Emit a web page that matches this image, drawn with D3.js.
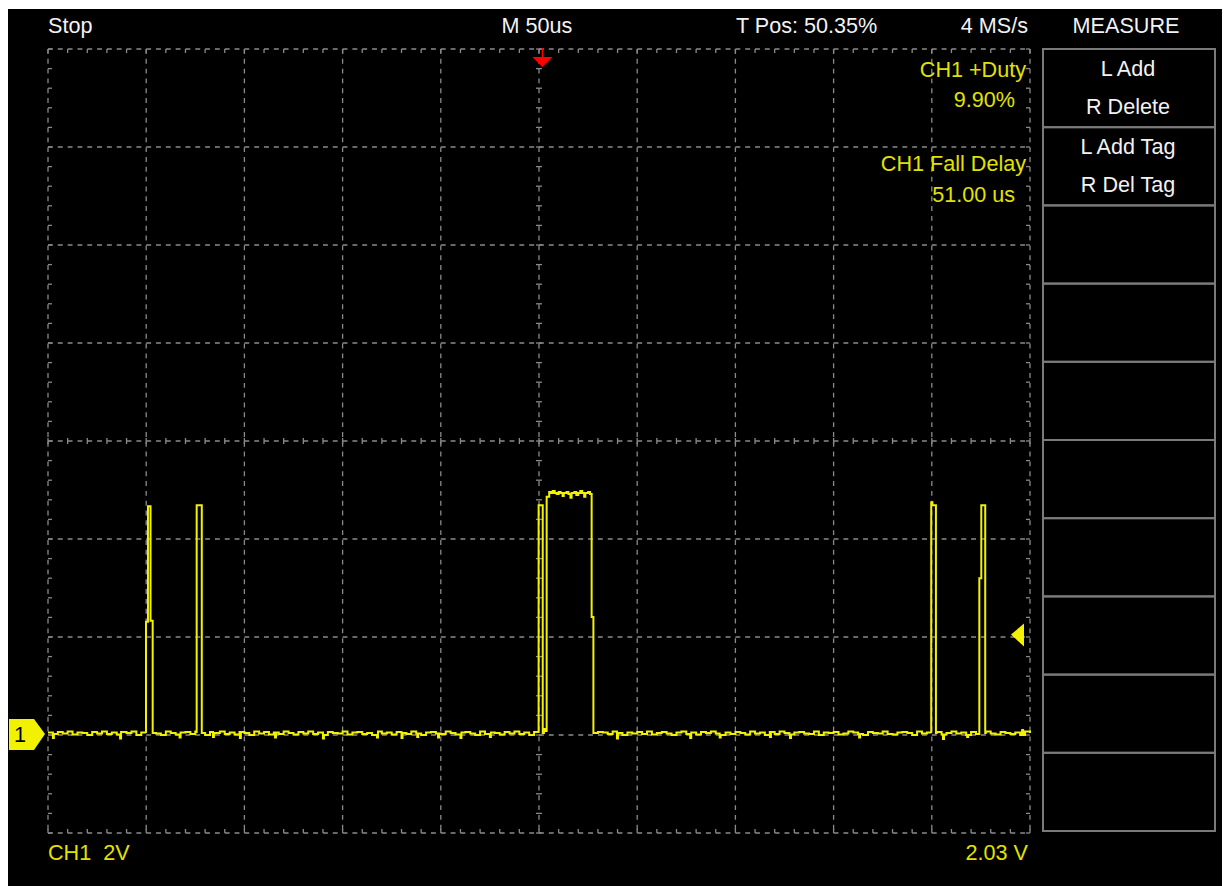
<!DOCTYPE html>
<html><head><meta charset="utf-8">
<script src="https://cdn.jsdelivr.net/npm/d3@7"></script>
<style>
html,body{margin:0;padding:0;background:#fff;}
svg{display:block;}
text{font-family:"Liberation Sans", Arial, sans-serif;}
</style></head><body>
<svg id="scope" width="1224" height="886"></svg>
<script>
// ---- acquisition settings ----
const timePerDivUs = 50;
const voltsPerDiv = 2;
const hDivs = 10, vDivs = 8;
const ch1PositionDiv = -2.99;
const triggerPosPct = 50.35;
const triggerLevelV = 2.03;

// ---- on-screen labels ----
const statusLabel = "Stop";
const timebaseLabel = "M 50us";
const triggerPosLabel = "T Pos: 50.35%";
const sampleRateLabel = "4 MS/s";
const menuTitle = "MEASURE";
const measureNames = ["CH1 +Duty", "CH1 Fall Delay"];
const measureValues = ["9.90%", "51.00 us"];
const menuItems = ["L Add", "R Delete", "L Add Tag", "R Del Tag"];
const menuSlots = 10;
const channelLabel = "CH1  2V";
const triggerLevelLabel = "2.03 V";

// ---- CH1 record: baseline jitter (mV) every 2.5 us, 0..500 us ----
const sampleStepUs = 2.5;
const baselineMv = [
  30,0,40,10,50,-10,30,20,-20,40,
  10,50,0,30,-10,40,20,50,-20,30,
  0,40,10,-20,50,20,-10,30,40,0,
  50,10,-20,40,20,50,0,30,-10,40,
  20,-20,50,10,40,-10,30,0,50,20,
  -10,40,10,50,0,30,-20,40,20,10,
  50,-10,30,40,0,20,-20,50,10,30,
  -10,40,20,0,50,10,-20,30,40,10,
  0,50,20,-10,30,40,10,-20,50,0,
  30,20,-10,40,10,50,0,30,-20,40,
  20,-10,50,10,30,0,40,-20,20,50,
  10,-10,40,30,0,50,20,-20,30,10,
  40,0,50,-10,20,40,10,-20,30,50,
  0,30,-10,40,20,50,10,-20,30,0,
  40,20,-10,50,10,30,-20,40,0,50,
  20,-10,30,40,10,0,50,-20,30,20,
  40,-10,10,50,30,0,-20,40,20,10,
  50,0,-10,30,40,20,-20,50,10,30,
  0,40,-10,20,50,10,30,-20,40,0,
  30,50,10,-10,40,20,0,30,-20,50,
  20
];
// narrow baseline glitches [time us, mV]
const glitches = [
  [2.5,-80],[36.7,-90],[67,-70],[84,-60],[97.7,-80],[115.6,-70],[140,-90],
  [167.5,-70],[180,-80],[188,-60],[198.6,-70],[210,-80],[225,-60],[289.7,-90],
  [327,-80],[342,-70],[367.6,-60],[377.8,-80],[413,-70],[455.7,-100],[468,-60],[496,80]
];
// pulses as [time us, volts]
const pulseA = [[49.9,0.02],[49.9,2.29],[50.9,2.29],[50.9,4.65],[52.2,4.65],[52.2,2.31],[53.3,2.31],[53.3,0.02]];
const pulseB = [[75.7,0.02],[75.7,4.67],[78.3,4.67],[78.3,0.02]];
const pulseC = [[249.8,0.02],[249.8,4.67],[251.9,4.67],[251.9,0.02],[252.5,0.1],[253.2,0.06]];
const pulseD = [[253.9,0.04],[253.9,4.84],[255.2,4.84],[255.2,4.94],[256,4.92],[257,4.96],[258,4.92],
  [259,4.9],[260,4.94],[261,4.92],[262,4.86],[262.6,4.92],[264,4.94],[265,4.9],[266,4.82],[266.6,4.92],
  [268,4.94],[269,4.88],[270,4.92],[271,4.96],[272,4.92],[273,4.84],[273.6,4.92],[275,4.94],[276,4.9],
  [276.8,4.9],[276.8,2.39],[277.7,2.39],[277.7,0.02]];
const pulseE = [[449.7,0.02],[449.7,4.73],[450.3,4.67],[452.1,4.67],[452.1,0.02]];
const pulseF = [[474.2,0.02],[474.2,3.18],[475.2,3.18],[475.2,4.67],[477.2,4.67],[477.2,0.02]];

// ---- geometry ----
const W = 1224, H = 886;
const plot = {left: 48, right: 1030, top: 49, bottom: 833};
const yellow = "#f2f200", textYellow = "#e2e200", gridGray = "#8a8a8a";
const fontPx = 21.6;

const svg = d3.select("#scope");
svg.append("rect").attr("x", 8).attr("y", 9).attr("width", 1214).attr("height", H - 9).attr("fill", "#000");

const spanUs = timePerDivUs * hDivs;
const x = d3.scaleLinear().domain([0, spanUs]).range([plot.left, plot.right]);
const y = d3.scaleLinear()
  .domain([(-vDivs / 2 - ch1PositionDiv) * voltsPerDiv, (vDivs / 2 - ch1PositionDiv) * voltsPerDiv])
  .range([plot.bottom, plot.top]);
const xDiv = d3.scaleLinear().domain([0, hDivs]).range([plot.left, plot.right]);
const yDiv = d3.scaleLinear().domain([0, vDivs]).range([plot.top, plot.bottom]);
const divW = xDiv(1) - xDiv(0);
const dash = `${divW / 20},${divW / 20}`;

// ---- graticule ----
const grid = svg.append("g").attr("stroke", gridGray).attr("stroke-width", 1.3).attr("fill", "none");
grid.selectAll("line.v").data(d3.range(0, hDivs + 1)).join("line")
  .attr("x1", d => xDiv(d)).attr("x2", d => xDiv(d))
  .attr("y1", plot.top).attr("y2", plot.bottom).attr("stroke-dasharray", dash);
grid.selectAll("line.h").data(d3.range(0, vDivs + 1)).join("line")
  .attr("class", "h")
  .attr("y1", d => yDiv(d)).attr("y2", d => yDiv(d))
  .attr("x1", plot.left).attr("x2", plot.right).attr("stroke-dasharray", dash);

// minor ticks every 1/5 division on the frame and the centre cross
const minorX = d3.range(0, hDivs * 5 + 1).map(i => i / 5);
const minorY = d3.range(0, vDivs * 5 + 1).map(i => i / 5);
const ticks = [];
minorX.forEach(d => {
  const px = xDiv(d);
  ticks.push([px, plot.top, px, plot.top + 4]);
  ticks.push([px, plot.bottom, px, plot.bottom - 4]);
  ticks.push([px, yDiv(vDivs / 2) - 3, px, yDiv(vDivs / 2) + 3]);
});
minorY.forEach(d => {
  const py = yDiv(d);
  ticks.push([plot.left, py, plot.left + 4, py]);
  ticks.push([plot.right, py, plot.right - 4, py]);
  ticks.push([xDiv(hDivs / 2) - 3, py, xDiv(hDivs / 2) + 3, py]);
});
grid.selectAll("line.t").data(ticks).join("line")
  .attr("x1", d => d[0]).attr("y1", d => d[1]).attr("x2", d => d[2]).attr("y2", d => d[3]);

// ---- assemble the CH1 trace ----
const events = [pulseA, pulseB, pulseC, pulseD, pulseE, pulseF]
  .map(p => ({start: p[0][0], end: p[p.length - 1][0], pts: p}));
glitches.forEach(([t, mv]) => {
  const base = baselineMv[Math.round(t / sampleStepUs)] / 1000;
  events.push({start: t, end: t + 0.5, pts: [[t, mv / 1000], [t + 0.5, base]]});
});
events.sort((a, b) => a.start - b.start);
const trace = [];
let ei = 0;
baselineMv.forEach((mv, i) => {
  const t = i * sampleStepUs;
  while (ei < events.length && events[ei].start <= t) { trace.push(...events[ei].pts); ei++; }
  if (!events.some(e => t >= e.start && t <= e.end)) trace.push([t, mv / 1000]);
});
while (ei < events.length) trace.push(...events[ei++].pts);
trace.sort((a, b) => a[0] - b[0]);

const line = d3.line().x(d => x(d[0])).y(d => y(d[1])).curve(d3.curveStepAfter);
svg.append("path").datum(trace).attr("d", line)
  .attr("fill", "none").attr("stroke", yellow).attr("stroke-width", 2).attr("stroke-linejoin", "miter");

// ---- markers ----
// channel 1 ground reference
const gy = y(0);
svg.append("path")
  .attr("d", `M9,${gy - 15}H34L45,${gy}L34,${gy + 16}H9Z`)
  .attr("fill", yellow);
svg.append("text").attr("x", 20).attr("y", gy + 8).attr("text-anchor", "middle")
  .attr("font-size", fontPx).attr("fill", "#000").text("1");

// trigger level
const ty = y(triggerLevelV);
svg.append("path").attr("d", `M1011,${ty}L1024,${ty - 11}V${ty + 12}Z`).attr("fill", yellow);

// trigger position
const tx = x(spanUs * triggerPosPct / 100);
svg.append("line").attr("x1", tx).attr("x2", tx).attr("y1", 48).attr("y2", 58)
  .attr("stroke", "#ff0000").attr("stroke-width", 1.5);
svg.append("path").attr("d", `M${tx - 10},57H${tx + 10}L${tx},67Z`).attr("fill", "#ff0000");

// ---- header ----
const white = "#f2f2f2";
const hdr = svg.append("g").attr("font-size", fontPx).attr("fill", white);
hdr.append("text").attr("x", 48).attr("y", 33).text(statusLabel);
hdr.append("text").attr("x", 537).attr("y", 33).attr("text-anchor", "middle").text(timebaseLabel);
hdr.append("text").attr("x", 736).attr("y", 33).text(triggerPosLabel);
hdr.append("text").attr("x", 1028).attr("y", 33).attr("text-anchor", "end").text(sampleRateLabel);
hdr.append("text").attr("x", 1126).attr("y", 33).attr("text-anchor", "middle").text(menuTitle);

// ---- measurement readouts ----
const meas = svg.append("g").attr("font-size", fontPx).attr("fill", textYellow).attr("text-anchor", "end");
measureNames.forEach((n, i) => {
  meas.append("text").attr("x", 1026).attr("y", 77 + i * 94).text(n);
  meas.append("text").attr("x", 1015).attr("y", 107 + i * 95).text(measureValues[i]);
});

// ---- side menu ----
const menu = {left: 1043, right: 1215, top: 49, bottom: 831};
const slotH = (menu.bottom - menu.top) / menuSlots;
svg.append("g").selectAll("rect").data(d3.range(menuSlots)).join("rect")
  .attr("x", menu.left).attr("y", d => menu.top + d * slotH)
  .attr("width", menu.right - menu.left).attr("height", slotH)
  .attr("fill", "none").attr("stroke", "#7a7a7a").attr("stroke-width", 2);
svg.append("g").attr("font-size", fontPx).attr("fill", white).attr("text-anchor", "middle")
  .selectAll("text").data(menuItems).join("text")
  .attr("x", (menu.left + menu.right) / 2 - 1)
  .attr("y", (d, i) => menu.top + Math.floor(i / 2) * slotH + (i % 2 === 0 ? 27 : 65))
  .text(d => d);

// ---- footer ----
const ftr = svg.append("g").attr("font-size", fontPx).attr("fill", textYellow);
ftr.append("text").attr("x", 48).attr("y", 860).style("white-space", "pre").text(channelLabel);
ftr.append("text").attr("x", 1028).attr("y", 860).attr("text-anchor", "end").text(triggerLevelLabel);
</script>
</body></html>
